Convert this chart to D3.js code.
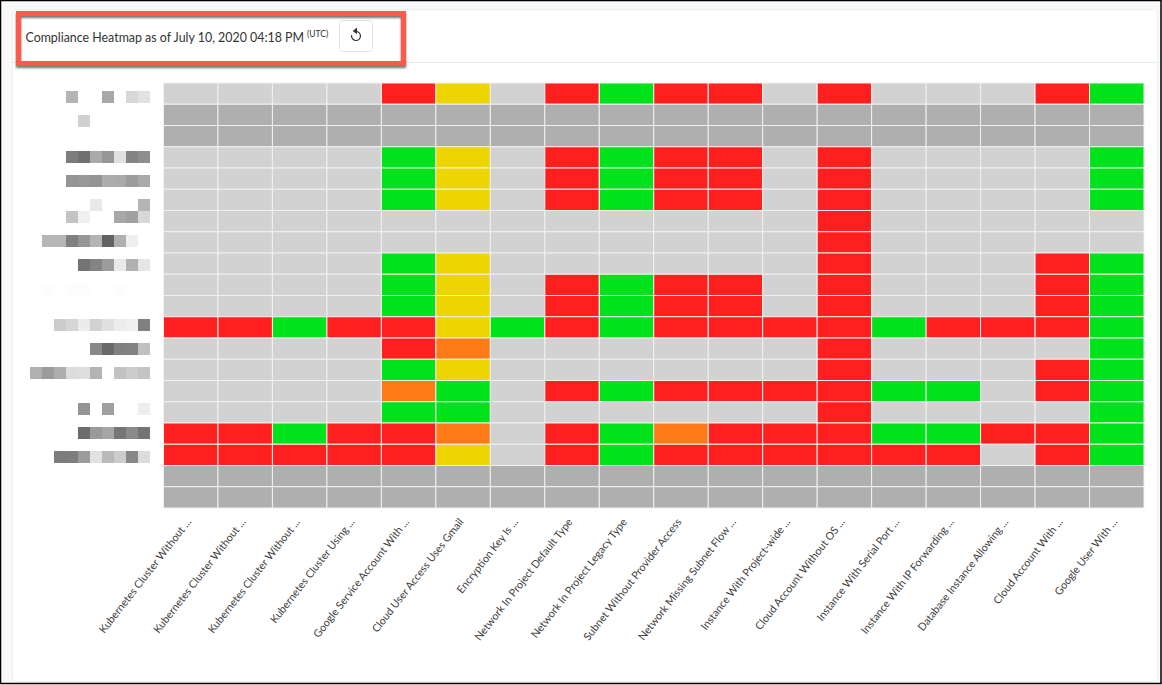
<!DOCTYPE html>
<html>
<head>
    <title>Compliance Heatmap</title>
    <script src="https://d3js.org/d3.v7.min.js"></script>
    <style>
        html, body { margin: 0; padding: 0; background: #fff; }
        svg { display: block; }
        .title { font-family: Lato, sans-serif; font-size: 12.4px; fill: #333; }
        .utc { font-family: Lato, sans-serif; font-size: 8.5px; fill: #333; }
        .x-axis text { font-family: Lato, sans-serif; font-size: 10.7px; fill: #3c3c3c; }
        .x-axis path, .x-axis line { display: none; }
    </style>
</head>
<body>
<div id="chart"></div>
<script>
    const checks = [
        "Kubernetes Cluster Without ...", "Kubernetes Cluster Without ...", "Kubernetes Cluster Without ...",
        "Kubernetes Cluster Using ...", "Google Service Account With ...", "Cloud User Access Uses Gmail",
        "Encryption Key Is ...", "Network In Project Default Type", "Network In Project Legacy Type",
        "Subnet Without Provider Access", "Network Missing Subnet Flow ...", "Instance With Project-wide ...",
        "Cloud Account Without OS ...", "Instance With Serial Port ...", "Instance With IP Forwarding ...",
        "Database Instance Allowing ...", "Cloud Account With ...", "Google User With ..."
    ];

    // one string per row, one letter per check
    // n = not applicable, d = no data, r = fail, g = pass, y = warning, o = partial
    const statusRows = [
        "nnnnrynrgrrnrnnnrg",
        "dddddddddddddddddd",
        "dddddddddddddddddd",
        "nnnngynrgrrnrnnnng",
        "nnnngynrgrrnrnnnng",
        "nnnngynrgrrnrnnnng",
        "nnnnnnnnnnnnrnnnnn",
        "nnnnnnnnnnnnrnnnnn",
        "nnnngynnnnnnrnnnrg",
        "nnnngynrgrrnrnnnrg",
        "nnnngynrgrrnrnnnrg",
        "rrgrrygrgrrrrgrrrg",
        "nnnnronnnnnnrnnnng",
        "nnnngynnnnnnrnnnrg",
        "nnnnognrgrrrrggnrg",
        "nnnnggnnnnnnrnnnng",
        "rrgrronrgorrrggrrg",
        "rrrrrynrgrrrrrrnrg",
        "dddddddddddddddddd",
        "dddddddddddddddddd"
    ];

    const statusCodes = ["n", "d", "r", "g", "y", "o"];
    const statusColors = ["#d2d2d2", "#afafaf", "#ff1f1f", "#00e219", "#ecd500", "#fd7a16"];

    // the row names are pixelated in the picture: grey level per mosaic tile, 255 = blank
    const mosaicLines = [0, 2, 5, 7, 9, 10, 12, 14, 16, 19, 21, 23, 26, 28, 30];
    const mosaicShades = [
        [255, 255, 255, 180, 255, 255, 168, 255, 216, 226],
        [255, 255, 255, 255, 208, 255, 255, 255, 255, 255],
        [255, 255, 255, 124, 112, 170, 150, 224, 132, 142],
        [255, 255, 255, 148, 152, 148, 172, 170, 156, 170],
        [255, 255, 255, 255, 255, 232, 255, 255, 255, 180],
        [255, 255, 255, 196, 240, 255, 255, 168, 160, 216],
        [255, 182, 182, 128, 150, 180, 98, 176, 238, 255],
        [255, 255, 255, 255, 116, 132, 156, 234, 176, 230],
        [255, 253, 255, 253, 253, 255, 255, 253, 255, 255],
        [255, 255, 204, 214, 236, 210, 224, 236, 240, 128],
        [255, 255, 255, 255, 255, 136, 106, 128, 130, 192],
        [176, 156, 174, 220, 222, 180, 255, 194, 204, 196],
        [255, 255, 255, 255, 148, 255, 160, 255, 255, 238],
        [255, 255, 255, 255, 108, 154, 166, 118, 138, 116],
        [255, 255, 124, 126, 156, 226, 186, 204, 136, 220]
    ];

    const width = 1162;
    const height = 685;
    const margin = { top: 83, right: 18, bottom: 177, left: 163.5 };

    const svg = d3.select("#chart").append("svg")
        .attr("width", width)
        .attr("height", height);

    const defs = svg.append("defs");
    const shadow = defs.append("filter").attr("id", "box-shadow")
        .attr("x", "-5%").attr("y", "-20%").attr("width", "110%").attr("height", "150%");
    shadow.append("feDropShadow")
        .attr("dx", 0).attr("dy", 2).attr("stdDeviation", 1.2)
        .attr("flood-color", "#000").attr("flood-opacity", 0.55);

    // page background and card
    svg.append("rect").attr("width", width).attr("height", height).attr("fill", "#f8f9fb");
    svg.append("rect").attr("x", 12.5).attr("y", 9.5).attr("width", 1145).attr("height", 672).attr("rx", 4)
        .attr("fill", "#fff").attr("stroke", "#eeeff1");
    svg.append("line").attr("x1", 13).attr("x2", 1157).attr("y1", 62.5).attr("y2", 62.5)
        .attr("stroke", "#e4ebf2");

    // heatmap
    const xScale = d3.scaleBand()
        .domain(d3.range(checks.length))
        .range([margin.left, width - margin.right]);
    const yScale = d3.scaleBand()
        .domain(d3.range(statusRows.length))
        .range([margin.top, height - margin.bottom]);
    const colorScale = d3.scaleOrdinal().domain(statusCodes).range(statusColors);

    const cells = statusRows.flatMap((row, r) =>
        row.split("").map((code, c) => ({ r, c, code })));

    svg.append("g").selectAll("rect")
        .data(cells)
        .enter()
        .append("rect")
        .attr("x", d => xScale(d.c))
        .attr("y", d => yScale(d.r))
        .attr("width", xScale.bandwidth())
        .attr("height", yScale.bandwidth())
        .attr("fill", d => colorScale(d.code))
        .attr("stroke", "#f0f0f0")
        .attr("stroke-width", 1);

    // x labels
    const xAxis = d3.axisBottom(xScale).tickFormat(i => checks[i]).tickSize(0);
    const xGroup = svg.append("g")
        .attr("class", "x-axis")
        .attr("transform", `translate(0,${height - margin.bottom})`)
        .call(xAxis);
    xGroup.selectAll("text")
        .attr("text-anchor", "end")
        .attr("dy", 0)
        .attr("y", 0)
        .attr("transform", "translate(1,14) rotate(-52)");

    // pixelated row names
    const tileX = d3.scaleLinear().domain([0, 10]).range([30, 150]);
    const tileY = d3.scaleLinear().domain([0, 31]).range([91, 463]);
    const tiles = mosaicShades.flatMap((shades, i) =>
        shades.map((g, c) => ({ line: mosaicLines[i], c, g })).filter(d => d.g < 255));

    svg.append("g").selectAll("rect")
        .data(tiles)
        .enter()
        .append("rect")
        .attr("x", d => tileX(d.c))
        .attr("y", d => tileY(d.line))
        .attr("width", tileX(1) - tileX(0))
        .attr("height", tileY(1) - tileY(0))
        .attr("fill", d => d3.rgb(d.g, d.g, d.g));

    // header
    svg.append("text").attr("class", "title").attr("x", 25.5).attr("y", 42)
        .text("Compliance Heatmap as of July 10, 2020 04:18 PM");
    svg.append("text").attr("class", "utc").attr("x", 307).attr("y", 37).text("(UTC)");

    svg.append("rect").attr("x", 339.5).attr("y", 20.5).attr("width", 33).attr("height", 31)
        .attr("rx", 3).attr("fill", "#fff").attr("stroke", "#e2e2e2");
    const icon = svg.append("g").attr("transform", "translate(356,36)");
    icon.append("path")
        .attr("d", d3.arc()({ innerRadius: 3.9, outerRadius: 5.1, startAngle: -0.1, endAngle: 4.9 }))
        .attr("fill", "#333");
    icon.append("path").attr("d", "M1,-8.5 L-3.2,-5 L1,-1.8 Z").attr("fill", "#333");

    // red annotation box
    svg.append("rect").attr("x", 18.5).attr("y", 13.5).attr("width", 385).attr("height", 50)
        .attr("fill", "none").attr("stroke", "#fe5a4c").attr("stroke-width", 5)
        .attr("filter", "url(#box-shadow)");

    // screenshot frame
    svg.append("rect").attr("x", 0.5).attr("y", 0.5).attr("width", width - 1.5).attr("height", height - 2)
        .attr("fill", "none").attr("stroke", "#000").attr("stroke-width", 1.5);
</script>
</body>
</html>
